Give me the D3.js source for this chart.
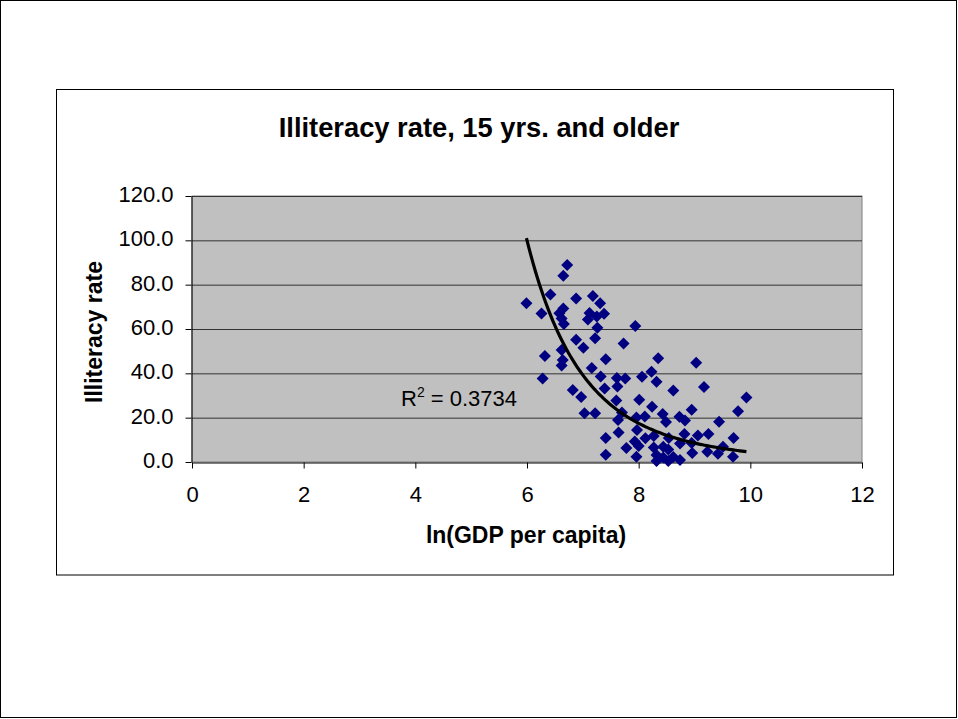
<!DOCTYPE html>
<html>
<head>
<meta charset="utf-8">
<script src="https://cdn.jsdelivr.net/npm/d3@7"></script>
<style>
  body { margin: 0; background: #fff; }
  svg { display: block; font-family: "Liberation Sans", Arial, sans-serif; }
</style>
</head>
<body>
<div id="chart"></div>
<script>
// ln(GDP per capita) for each country
const lnGdp = [
  6.72, 6.65, 6.42, 5.99, 6.88, 7.18, 7.31, 6.26, 6.65, 6.58, 6.62, 6.66, 7.12, 7.09, 7.25, 7.38, 7.26, 7.94,
  6.88, 7.01, 7.22, 7.73, 6.32, 6.62, 6.64, 6.62, 7.41, 7.16, 7.32, 6.28, 7.61, 7.76, 7.62, 8.35, 9.03, 8.06,
  8.23, 8.32, 8.62, 9.17, 9.93, 7.39, 6.97, 6.82, 7.60, 8.01, 8.24, 8.95, 9.78,
  7.03, 7.22, 7.70, 7.63, 7.96, 8.11, 8.43, 8.49, 8.73, 8.83, 9.44, 7.64, 7.97, 8.12, 8.27, 7.41, 7.78, 7.93,
  8.00, 8.27, 8.54, 8.82, 9.06, 9.25, 9.70, 7.41, 7.96, 8.32, 8.32, 8.44, 8.53, 8.62, 8.74, 8.44, 8.53, 8.74,
  8.95, 8.96, 9.23, 9.42, 9.51, 9.69
];

// illiteracy rate (%), 15 yrs. and older
const illiteracy = [
  88.9, 84.0, 75.6, 71.6, 73.8, 74.9, 71.6, 67.0, 69.3, 67.1, 64.7, 62.3, 67.2, 64.3, 65.6, 66.9, 60.6, 61.4,
  55.2, 51.5, 55.8, 53.5, 47.8, 50.5, 46.0, 43.5, 46.3, 42.4, 38.6, 37.7, 37.9, 37.7, 34.1, 46.8, 44.8, 38.5,
  40.7, 36.2, 32.2, 33.8, 29.1, 33.2, 29.3, 32.5, 27.7, 28.1, 24.9, 23.6, 22.9,
  22.0, 22.0, 22.3, 18.9, 20.1, 20.5, 21.7, 18.0, 20.4, 18.7, 18.2, 13.3, 14.4, 10.7, 11.7, 10.8, 6.3, 9.2,
  7.2, 6.5, 10.8, 12.6, 12.0, 12.6, 10.8, 3.3, 2.4, 3.2, 0.5, 2.0, 0.5, 2.3, 0.9, 6.9, 5.6, 8.3,
  8.6, 4.1, 4.6, 3.7, 6.9, 2.4
];

const xTicks = [0, 2, 4, 6, 8, 10, 12];
const yTicks = [0, 20, 40, 60, 80, 100, 120];

// power trendline y = a * x^b, coefficients
const trendA = 5.29e6;
const trendB = -6.07;

const chartTitle = "Illiteracy rate, 15 yrs. and older";
const xTitle = "ln(GDP per capita)";
const yTitle = "Illiteracy rate";
const rSquared = "0.3734";

const width = 958;
const height = 719;
const plot = { left: 192, top: 196, right: 862, bottom: 462 };
const navy = "#000080";

/*******************************/
/*    Append the containers    */
/*******************************/
const svg = d3.select("#chart")
  .append("svg")
    .attr("width", width)
    .attr("height", height)
    .attr("viewBox", `0 0 ${width} ${height}`);

// page frame
svg.append("rect")
  .attr("x", 0.5).attr("y", 0.5)
  .attr("width", width - 2).attr("height", height - 2)
  .attr("fill", "#fff")
  .attr("stroke", "#000");

// chart area box
svg.append("rect")
  .attr("x", 56.5).attr("y", 89.5)
  .attr("width", 837).attr("height", 485.5)
  .attr("fill", "#fff")
  .attr("stroke", "#000");

/****************************/
/*    Declare the scales    */
/****************************/
const xScale = d3.scaleLinear()
  .domain([0, 12])
  .range([plot.left, plot.right]);

const yScale = d3.scaleLinear()
  .domain([0, 120])
  .range([plot.bottom, plot.top]);

// plot area background
svg.append("rect")
  .attr("x", plot.left).attr("y", plot.top)
  .attr("width", plot.right - plot.left)
  .attr("height", plot.bottom - plot.top)
  .attr("fill", "#c0c0c0")
  .attr("stroke", "#808080");

// horizontal gridlines
svg.append("g")
  .selectAll("line")
  .data(yTicks.filter(d => d > 0))
  .join("line")
    .attr("x1", plot.left)
    .attr("x2", plot.right)
    .attr("y1", d => yScale(d) + 0.5)
    .attr("y2", d => yScale(d) + 0.5)
    .attr("stroke", "#333")
    .attr("stroke-width", 1);

/**********************/
/*    Draw the axes   */
/**********************/
const bottomAxis = d3.axisBottom(xScale)
  .tickValues(xTicks)
  .tickFormat(d3.format("d"))
  .tickSizeInner(6)
  .tickSizeOuter(0)
  .tickPadding(18);

const xAxisG = svg.append("g")
  .attr("transform", `translate(0, ${plot.bottom + 0.5})`)
  .call(bottomAxis);

const leftAxis = d3.axisLeft(yScale)
  .tickValues(yTicks)
  .tickFormat(d3.format(".1f"))
  .tickSizeInner(6)
  .tickSizeOuter(0)
  .tickPadding(12);

const yAxisG = svg.append("g")
  .attr("transform", `translate(${plot.left - 0.5}, 0)`)
  .call(leftAxis);

[xAxisG, yAxisG].forEach(g => {
  g.select(".domain").attr("stroke", "#000");
  g.selectAll(".tick line").attr("stroke", "#000");
  g.selectAll(".tick text")
    .attr("fill", "#000")
    .style("font-size", "22px")
    .style("font-family", "'Liberation Sans', Arial, sans-serif");
});
yAxisG.selectAll(".tick text").attr("dy", "0.25em");

/****************************/
/*    Draw the points       */
/****************************/
const points = lnGdp.map((x, i) => ({ x, y: illiteracy[i] }));
const diamond = "M0,-6L6,0L0,6L-6,0Z";

svg.append("g")
  .selectAll("path")
  .data(points)
  .join("path")
    .attr("d", diamond)
    .attr("transform", d => `translate(${xScale(d.x)}, ${yScale(d.y)})`)
    .attr("fill", navy);

/*********************************/
/*    Power trendline            */
/*********************************/
const [minX, maxX] = d3.extent(lnGdp);
const trend = d3.range(0, 101).map(i => {
  const x = minX + (maxX - minX) * i / 100;
  return { x, y: trendA * Math.pow(x, trendB) };
});

svg.append("path")
  .datum(trend)
  .attr("d", d3.line().x(d => xScale(d.x)).y(d => yScale(d.y)))
  .attr("fill", "none")
  .attr("stroke", "#000")
  .attr("stroke-width", 3.2);

// R squared label
const rLabel = svg.append("text")
  .attr("x", 401)
  .attr("y", 406)
  .style("font-size", "22px")
  .attr("fill", "#000");
rLabel.append("tspan").text("R");
rLabel.append("tspan").text("2")
  .attr("dy", -9)
  .style("font-size", "14px");
rLabel.append("tspan").text(` = ${rSquared}`)
  .attr("dy", 9);

/***************************/
/*    Titles               */
/***************************/
svg.append("text")
  .text(chartTitle)
  .attr("x", 479)
  .attr("y", 137)
  .attr("text-anchor", "middle")
  .style("font-size", "27.3px")
  .style("font-weight", "bold");

svg.append("text")
  .text(xTitle)
  .attr("x", 526)
  .attr("y", 543)
  .attr("text-anchor", "middle")
  .style("font-size", "23px")
  .style("font-weight", "bold");

svg.append("text")
  .text(yTitle)
  .attr("transform", "translate(102, 332) rotate(-90)")
  .attr("text-anchor", "middle")
  .style("font-size", "23px")
  .style("font-weight", "bold");
</script>
</body>
</html>
